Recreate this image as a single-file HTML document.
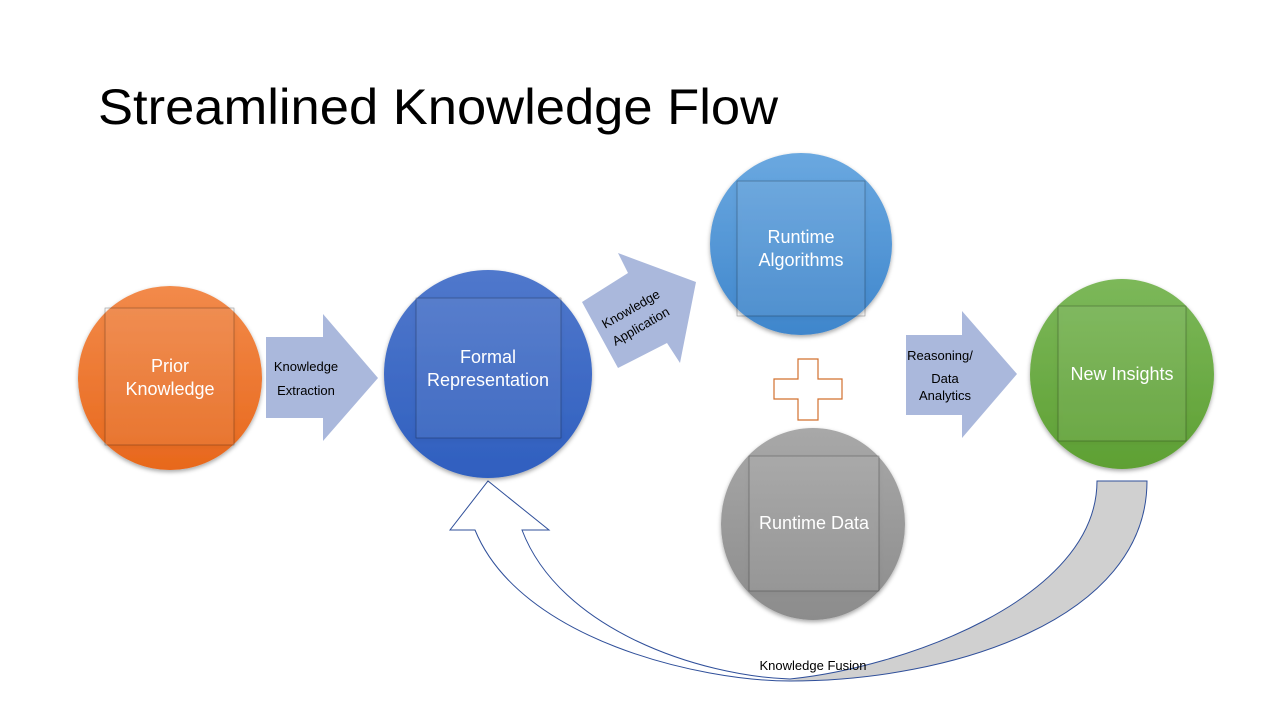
<!DOCTYPE html>
<html><head><meta charset="utf-8"><style>
html,body{margin:0;padding:0;background:#fff;}
svg{display:block;font-family:"Liberation Sans",sans-serif;}
</style></head><body>
<svg width="1280" height="720" viewBox="0 0 1280 720">
<defs>
<linearGradient id="og" x1="0" y1="0" x2="0" y2="1"><stop offset="0" stop-color="#f28a4a"/><stop offset="1" stop-color="#e8681c"/></linearGradient>
<linearGradient id="bg" x1="0" y1="0" x2="0" y2="1"><stop offset="0" stop-color="#5078cc"/><stop offset="1" stop-color="#2f5fbf"/></linearGradient>
<linearGradient id="lb" x1="0" y1="0" x2="0" y2="1"><stop offset="0" stop-color="#6aa8e0"/><stop offset="1" stop-color="#3f86cc"/></linearGradient>
<linearGradient id="gg" x1="0" y1="0" x2="0" y2="1"><stop offset="0" stop-color="#a8a8a8"/><stop offset="1" stop-color="#8c8c8c"/></linearGradient>
<linearGradient id="gr" x1="0" y1="0" x2="0" y2="1"><stop offset="0" stop-color="#7cb85a"/><stop offset="1" stop-color="#5ea033"/></linearGradient>
<linearGradient id="cv" x1="0" y1="0" x2="1" y2="0"><stop offset="0.47" stop-color="#fff"/><stop offset="0.5" stop-color="#d0d0d0"/></linearGradient>
<filter id="sh" x="-20%" y="-20%" width="140%" height="140%"><feDropShadow dx="0" dy="2" stdDeviation="2" flood-opacity="0.35"/></filter>
</defs>
<text x="98" y="124" font-size="50" fill="#000" textLength="680" lengthAdjust="spacingAndGlyphs">Streamlined Knowledge Flow</text>

<path d="M475,530 C520,640 700,681 790,681 C950,681 1147,620 1147,481 L1097,481 C1097,600 900,668 790,679 C700,676 560,630 522,530 L549,530 L488,481 L450,530 Z" fill="url(#cv)" stroke="#2f4f9a" stroke-width="1"/>
<text x="813" y="670" font-size="13" text-anchor="middle" fill="#000">Knowledge Fusion</text>

<polygon points="266,337 323,337 323,314 378,378 323,441 323,418 266,418" fill="#aab8dc"/>
<text x="306" y="371" font-size="13" text-anchor="middle">Knowledge</text>
<text x="306" y="395" font-size="13" text-anchor="middle">Extraction</text>
<polygon points="582,302 628,273 618,253 696,282 680,363 667,343 618,368" fill="#aab8dc"/>
<g transform="translate(636,318) rotate(-30)" font-size="13" text-anchor="middle">
<text x="0" y="-6">Knowledge</text><text x="0" y="14">Application</text></g>
<polygon points="906,335 962,335 962,311 1017,374 962,438 962,415 906,415" fill="#aab8dc"/>
<text x="940" y="360" font-size="13" text-anchor="middle">Reasoning/</text>
<text x="945" y="383" font-size="13" text-anchor="middle">Data</text>
<text x="945" y="400" font-size="13" text-anchor="middle">Analytics</text>

<polygon points="798,359 818,359 818,379 842,379 842,399 818,399 818,420 798,420 798,399 774,399 774,379 798,379" fill="#fff" stroke="#d2702e" stroke-width="1.2"/>

<g filter="url(#sh)">
<circle cx="170" cy="378" r="92" fill="url(#og)"/>
<circle cx="488" cy="374" r="104" fill="url(#bg)"/>
<circle cx="801" cy="244" r="91" fill="url(#lb)"/>
<ellipse cx="813" cy="524" rx="92" ry="96" fill="url(#gg)"/>
<ellipse cx="1122" cy="374" rx="92" ry="95" fill="url(#gr)"/>
</g>
<g filter="url(#sh)" stroke-opacity="0.4" stroke="#000" stroke-width="0.6">
<rect x="105" y="308" width="129" height="137" fill="#fff" fill-opacity="0.06"/>
<rect x="416" y="298" width="145" height="140" fill="#fff" fill-opacity="0.06"/>
<rect x="737" y="181" width="128" height="135" fill="#fff" fill-opacity="0.06"/>
<rect x="749" y="456" width="130" height="135" fill="#fff" fill-opacity="0.06"/>
<rect x="1058" y="306" width="128" height="135" fill="#fff" fill-opacity="0.06"/>
</g>
<g fill="#fff" font-size="18" text-anchor="middle">
<text x="170" y="372">Prior</text><text x="170" y="395">Knowledge</text>
<text x="488" y="363">Formal</text><text x="488" y="386">Representation</text>
<text x="801" y="243">Runtime</text><text x="801" y="266">Algorithms</text>
<text x="814" y="529">Runtime Data</text>
<text x="1122" y="380">New Insights</text>
</g>
</svg>
</body></html>
